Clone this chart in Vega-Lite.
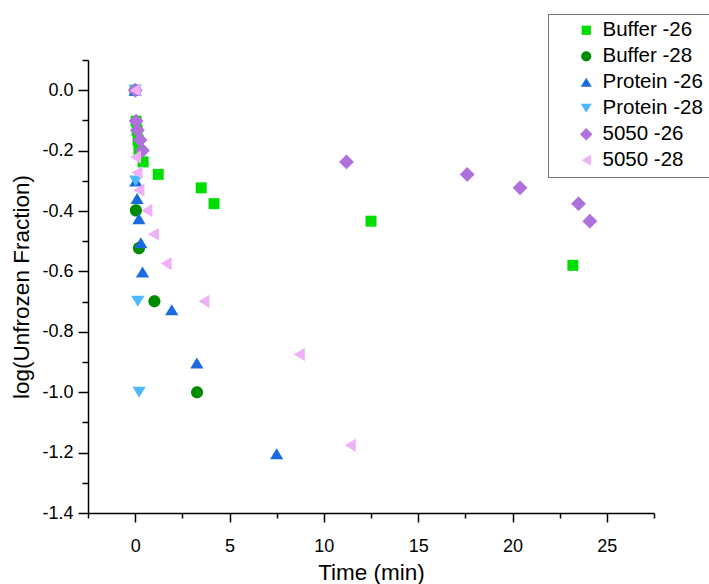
{
  "$schema": "https://vega.github.io/schema/vega-lite/v6.json",
  "width": 566,
  "height": 453,
  "autosize": {"type": "none"},
  "padding": {"left": 88, "top": 60, "right": 55, "bottom": 71},
  "background": "white",
  "config": {"view": {"stroke": null}, "font": "Liberation Sans"},
  "data": {
    "values": [
      {"series": "Buffer -26", "t": 0, "v": 0},
      {"series": "Buffer -26", "t": 0.05, "v": -0.1024},
      {"series": "Buffer -26", "t": 0.1, "v": -0.1326},
      {"series": "Buffer -26", "t": 0.15, "v": -0.1648},
      {"series": "Buffer -26", "t": 0.2, "v": -0.1996},
      {"series": "Buffer -26", "t": 0.42, "v": -0.2374},
      {"series": "Buffer -26", "t": 1.22, "v": -0.2788},
      {"series": "Buffer -26", "t": 3.5, "v": -0.3233},
      {"series": "Buffer -26", "t": 4.18, "v": -0.3757},
      {"series": "Buffer -26", "t": 12.5, "v": -0.4337},
      {"series": "Buffer -26", "t": 23.2, "v": -0.5798},
      {"series": "Buffer -28", "t": 0, "v": 0},
      {"series": "Buffer -28", "t": 0.04, "v": -0.398},
      {"series": "Buffer -28", "t": 0.2, "v": -0.523},
      {"series": "Buffer -28", "t": 1.02, "v": -0.699},
      {"series": "Buffer -28", "t": 3.28, "v": -1.0},
      {"series": "Protein -26", "t": 0, "v": 0},
      {"series": "Protein -26", "t": 0.03, "v": -0.301},
      {"series": "Protein -26", "t": 0.1, "v": -0.359},
      {"series": "Protein -26", "t": 0.2, "v": -0.426},
      {"series": "Protein -26", "t": 0.3, "v": -0.505},
      {"series": "Protein -26", "t": 0.39, "v": -0.602},
      {"series": "Protein -26", "t": 1.94, "v": -0.727},
      {"series": "Protein -26", "t": 3.27, "v": -0.903},
      {"series": "Protein -26", "t": 7.5, "v": -1.204},
      {"series": "Protein -28", "t": 0, "v": 0},
      {"series": "Protein -28", "t": 0.03, "v": -0.301},
      {"series": "Protein -28", "t": 0.14, "v": -0.699},
      {"series": "Protein -28", "t": 0.21, "v": -1.0},
      {"series": "5050 -26", "t": 0, "v": 0},
      {"series": "5050 -26", "t": 0.05, "v": -0.1024},
      {"series": "5050 -26", "t": 0.12, "v": -0.1326},
      {"series": "5050 -26", "t": 0.26, "v": -0.1648},
      {"series": "5050 -26", "t": 0.39, "v": -0.1996},
      {"series": "5050 -26", "t": 11.2, "v": -0.2374},
      {"series": "5050 -26", "t": 17.6, "v": -0.2788},
      {"series": "5050 -26", "t": 20.4, "v": -0.3233},
      {"series": "5050 -26", "t": 23.5, "v": -0.3757},
      {"series": "5050 -26", "t": 24.1, "v": -0.4337},
      {"series": "5050 -28", "t": 0, "v": 0},
      {"series": "5050 -28", "t": 0.02, "v": -0.2218},
      {"series": "5050 -28", "t": 0.1, "v": -0.273},
      {"series": "5050 -28", "t": 0.2, "v": -0.331},
      {"series": "5050 -28", "t": 0.62, "v": -0.398},
      {"series": "5050 -28", "t": 0.97, "v": -0.477},
      {"series": "5050 -28", "t": 1.64, "v": -0.574},
      {"series": "5050 -28", "t": 3.65, "v": -0.699},
      {"series": "5050 -28", "t": 8.7, "v": -0.875},
      {"series": "5050 -28", "t": 11.4, "v": -1.176}
    ]
  },
  "mark": {"type": "point", "filled": true, "opacity": 1, "size": 121, "strokeWidth": 0},
  "encoding": {
    "x": {
      "field": "t",
      "type": "quantitative",
      "scale": {"domain": [-2.5, 27.5], "nice": false, "zero": false},
      "axis": {
        "values": [-2.5, 0, 2.5, 5, 7.5, 10, 12.5, 15, 17.5, 20, 22.5, 25, 27.5],
        "format": ".1f",
        "labelExpr": "datum.value % 5 === 0 ? format(datum.value, 'd') : ''",
        "tickSize": {"condition": {"test": "datum.value % 5 === 0", "value": 9}, "value": 5},
        "grid": false,
        "domainColor": "black",
        "domainWidth": 1.5,
        "tickColor": "black",
        "tickWidth": 1.5,
        "labelFontSize": 18,
        "labelColor": "black",
        "labelPadding": 15,
        "labelFlush": false,
        "labelOverlap": false,
        "title": "Time (min)",
        "titleFontSize": 22.5,
        "titleFontWeight": "normal",
        "titleColor": "black",
        "titlePadding": 6
      }
    },
    "y": {
      "field": "v",
      "type": "quantitative",
      "scale": {"domain": [-1.4, 0.1], "nice": false, "zero": false},
      "axis": {
        "values": [-1.4, -1.3, -1.2, -1.1, -1.0, -0.9, -0.8, -0.7, -0.6, -0.5, -0.4, -0.3, -0.2, -0.1, 0, 0.1],
        "labelExpr": "abs(round(datum.value * 10)) % 2 === 0 ? replace(format(datum.value, '.1f'), '\u2212', '-') : ''",
        "tickSize": {"condition": {"test": "abs(round(datum.value * 10)) % 2 === 0", "value": 10}, "value": 6},
        "grid": false,
        "domainColor": "black",
        "domainWidth": 1.5,
        "tickColor": "black",
        "tickWidth": 1.5,
        "labelFontSize": 18,
        "labelColor": "black",
        "labelPadding": 5,
        "labelFlush": false,
        "labelOverlap": false,
        "title": "log(Unfrozen Fraction)",
        "titleFontSize": 22.5,
        "titleFontWeight": "normal",
        "titleColor": "black",
        "titlePadding": 8
      }
    },
    "color": {
      "field": "series",
      "type": "nominal",
      "sort": null,
      "scale": {
        "domain": ["Buffer -26", "Buffer -28", "Protein -26", "Protein -28", "5050 -26", "5050 -28"],
        "range": ["#00dd00", "#008c00", "#1a6be0", "#4db8ff", "#b070dc", "#f0b0f8"]
      },
      "legend": {
        "orient": "none",
        "legendX": 460,
        "legendY": -46,
        "title": null,
        "strokeColor": "#777777",
        "fillColor": "white",
        "padding": 6,
        "labelFontSize": 20.5,
        "labelColor": "black",
        "symbolSize": 85,
        "symbolOffset": 22,
        "labelOffset": 6,
        "rowPadding": 5,
        "symbolStrokeWidth": 0
      }
    },
    "shape": {
      "field": "series",
      "type": "nominal",
      "sort": null,
      "scale": {
        "domain": ["Buffer -26", "Buffer -28", "Protein -26", "Protein -28", "5050 -26", "5050 -28"],
        "range": [
          "M-1,-1L1,-1L1,1L-1,1Z",
          "M1.1,0A1.1,1.1,0,1,1,-1.1,0A1.1,1.1,0,1,1,1.1,0Z",
          "M0,-1L1.2,1L-1.2,1Z",
          "M0,1L1.2,-1L-1.2,-1Z",
          "M0,-1.35L1.35,0L0,1.35L-1.35,0Z",
          "M-1,0L1,-1.2L1,1.2Z"
        ]
      },
      "legend": {
        "orient": "none",
        "legendX": 460,
        "legendY": -46,
        "title": null,
        "strokeColor": "#777777",
        "fillColor": "white",
        "padding": 6,
        "labelFontSize": 20.5,
        "labelColor": "black",
        "symbolSize": 85,
        "symbolOffset": 22,
        "labelOffset": 6,
        "rowPadding": 5,
        "symbolStrokeWidth": 0
      }
    }
  }
}
